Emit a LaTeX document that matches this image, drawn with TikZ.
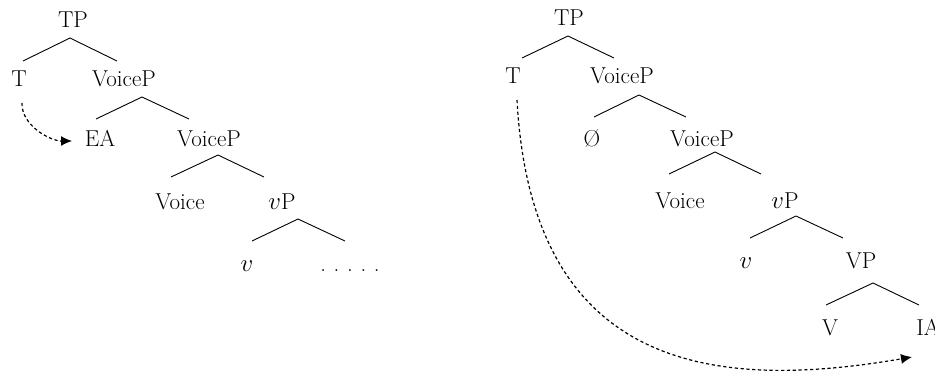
\documentclass[tikz,border=0pt]{standalone}
\usetikzlibrary{arrows.meta}
\begin{document}
\begin{tikzpicture}[x=1pt,y=-1pt,
  lab/.style={anchor=base,inner sep=0pt,font=\fontsize{23}{28}\selectfont},
  branch/.style={line width=0.9pt},
  movearrow/.style={line width=1.2pt,dash pattern=on 3.2pt off 2.6pt,-{Latex[length=11pt,width=10pt]}}]
\useasboundingbox (0,0) rectangle (935,373);
% ---------- left tree ----------
\node[lab] (lTP) at (73,27) {TP};
\node[lab] (lT) at (19,86) {T};
\node[lab] (lVP1) at (124,86) {VoiceP};
\node[lab] (lEA) at (100,146) {EA};
\node[lab] (lVP2) at (209,146) {VoiceP};
\node[lab] (lVoice) at (180,209) {Voice};
\node[lab] (lvP) at (282,209) {$v$P};
\node[lab] (lv) at (247,271) {$v$};
\node[lab] (ldots) at (350,271) {.\,\,.\,\,.\,\,.\,\,.};
\coordinate (la1) at (70,38);   \coordinate (ll1) at (23,61);   \coordinate (lr1) at (117,61);
\coordinate (la2) at (142,97);  \coordinate (ll2) at (96,119);  \coordinate (lr2) at (189,119);
\coordinate (la3) at (218,155); \coordinate (ll3) at (171,177); \coordinate (lr3) at (264,177);
\coordinate (la4) at (298,219); \coordinate (ll4) at (252,241); \coordinate (lr4) at (345,241);
\foreach \i in {1,2,3,4} \draw[branch] (ll\i) -- (la\i) -- (lr\i);
\coordinate (lstart) at (22,103);
\coordinate (lend) at (72,141);
\draw[movearrow] (lstart) to[out=-92,in=180,looseness=0.9] (lend);
% ---------- right tree ----------
\node[lab] (rTP) at (569,25) {TP};
\node[lab] (rT) at (513,83) {T};
\node[lab] (rVP1) at (622,83) {VoiceP};
\node[lab] (rO) at (592,146) {\O};
\node[lab] (rVP2) at (702,146) {VoiceP};
\node[lab] (rVoice) at (680,208) {Voice};
\node[lab] (rvP) at (785,208) {$v$P};
\node[lab] (rv) at (746,268) {$v$};
\node[lab] (rVPP) at (861,268) {VP};
\node[lab] (rV) at (830,335) {V};
\node[lab] (rIA) at (928,335) {IA};
\coordinate (ra1) at (568,36);  \coordinate (rl1) at (522,58);  \coordinate (rr1) at (614,58);
\coordinate (ra2) at (639,95);  \coordinate (rl2) at (594,117); \coordinate (rr2) at (686,117);
\coordinate (ra3) at (715,152); \coordinate (rl3) at (669,174); \coordinate (rr3) at (761,174);
\coordinate (ra4) at (796,216); \coordinate (rl4) at (750,238); \coordinate (rr4) at (843,238);
\coordinate (ra5) at (873,283); \coordinate (rl5) at (826,305); \coordinate (rr5) at (919,305);
\foreach \i in {1,2,3,4,5} \draw[branch] (rl\i) -- (ra\i) -- (rr\i);
\coordinate (rstart) at (517,100);
\coordinate (rend) at (912,357);
\draw[movearrow] (rstart) .. controls (532,375) and (720,390) .. (rend);
\end{tikzpicture}
\end{document}
